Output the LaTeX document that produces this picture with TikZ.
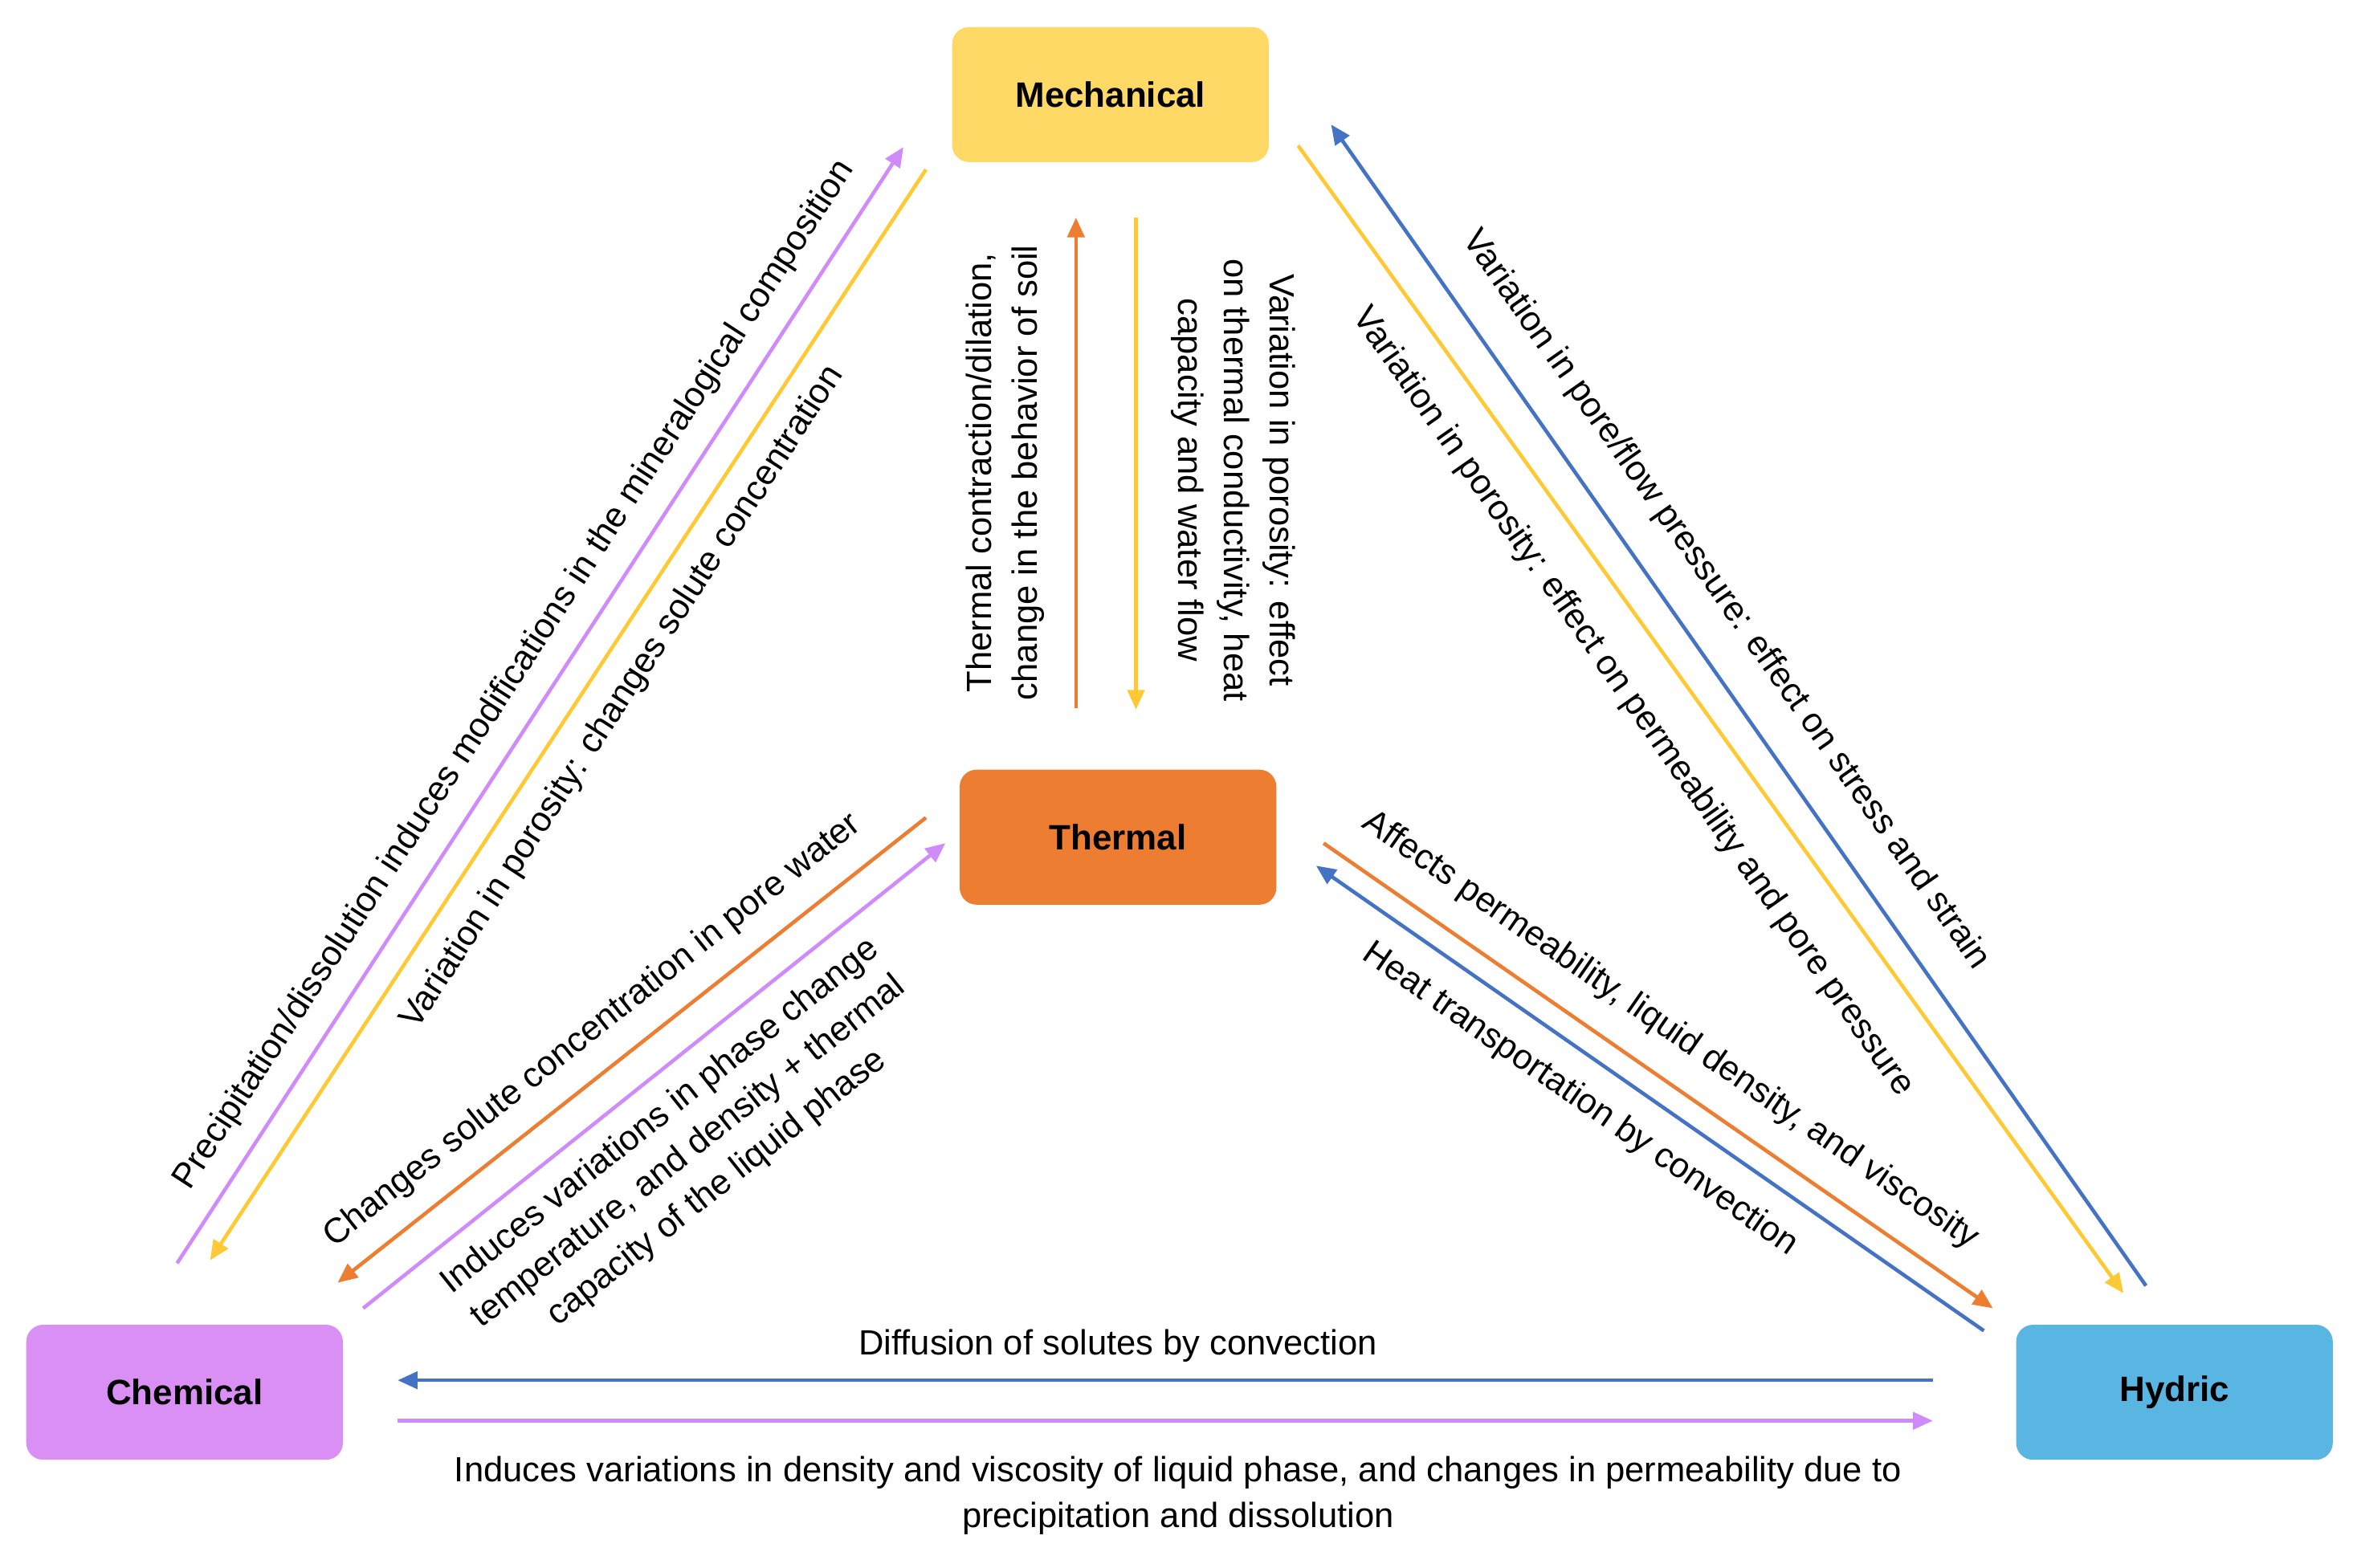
\documentclass[tikz,border=0pt]{standalone}
\usepackage{fontspec}
\setmainfont{Liberation Sans}
\usetikzlibrary{arrows.meta}
\definecolor{cMech}{HTML}{FFD966}
\definecolor{cTher}{HTML}{ED7D31}
\definecolor{cChem}{HTML}{DA8FF5}
\definecolor{cHyd}{HTML}{59B6E2}
\definecolor{aBlue}{HTML}{4472C4}
\definecolor{aOr}{HTML}{ED7D31}
\definecolor{aYel}{HTML}{FFC933}
\definecolor{aVio}{HTML}{D08BFA}
\begin{document}
\begin{tikzpicture}[x=0.018686cm,y=-0.018686cm,
  box/.style={rounded corners=6pt,minimum width=211*0.018686cm,minimum height=90*0.018686cm,font=\fontsize{12.5}{15}\selectfont\bfseries,inner sep=0},
  arr/.style={line width=1.3pt,-{Triangle[length=7pt,width=6pt]}},
  lab/.style={font=\fontsize{12.4}{16.2}\selectfont,align=center,inner sep=0}]
\useasboundingbox (0,0) rectangle (1568,1045);
\node[box,fill=cMech] (mech) at (740,63) {Mechanical};
\node[box,fill=cTher] (ther) at (745,558) {Thermal};
\node[box,fill=cChem] (chem) at (123,928) {Chemical};
\node[box,fill=cHyd] (hyd) at (1449,928) {Hydric};
% coordinates
\coordinate (b1) at (1288,920); \coordinate (b2) at (265,920);
\coordinate (b3) at (265,947); \coordinate (b4) at (1288,947);
\coordinate (l1) at (118,842); \coordinate (l2) at (602,98);
\coordinate (l3) at (617,113); \coordinate (l4) at (140,840);
\coordinate (c1) at (717,472); \coordinate (c2) at (717,145);
\coordinate (c3) at (757,145); \coordinate (c4) at (757,473);
\coordinate (r1) at (1430,857); \coordinate (r2) at (887,83);
\coordinate (r3) at (865,97); \coordinate (r4) at (1415,862);
\coordinate (t1) at (617,545); \coordinate (t2) at (225,855);
\coordinate (t3) at (242,872); \coordinate (t4) at (630,562);
\coordinate (h1) at (882,562); \coordinate (h2) at (1328,872);
\coordinate (h3) at (1322,887); \coordinate (h4) at (877,577);
\draw[arr,aBlue] (b1) -- (b2);
\draw[arr,aVio] (b3) -- (b4);
\draw[arr,aVio] (l1) -- (l2);
\draw[arr,aYel] (l3) -- (l4);
\draw[arr,aOr] (c1) -- (c2);
\draw[arr,aYel] (c3) -- (c4);
\draw[arr,aBlue] (r1) -- (r2);
\draw[arr,aYel] (r3) -- (r4);
\draw[arr,aOr] (t1) -- (t2);
\draw[arr,aVio] (t3) -- (t4);
\draw[arr,aOr] (h1) -- (h2);
\draw[arr,aBlue] (h3) -- (h4);
% labels
\node[lab] (lb1) at (745,897) {Diffusion of solutes by convection};
\node[lab] (lb2) at (785,997) {Induces variations in density and viscosity of liquid phase, and changes in permeability due to\\precipitation and dissolution};
\node[lab,rotate=57] (lb3) at (343,450) {Precipitation/dissolution induces modifications in the mineralogical composition};
\node[lab,rotate=57] (lb4) at (415,465) {Variation in porosity: changes solute concentration};
\node[lab,rotate=90] (lb5) at (670,315) {Thermal contraction/dilation,\\change in the behavior of soil};
\node[lab,rotate=-90] (lb6) at (822,320) {Variation in porosity: effect\\on thermal conductivity, heat\\capacity and water flow};
\node[lab,rotate=-55] (lb7) at (1150,400) {Variation in pore/flow pressure: effect on stress and strain};
\node[lab,rotate=-55] (lb8) at (1088,468) {Variation in porosity: effect on permeability and pore pressure};
\node[lab,rotate=38.5] (lb9) at (395,687) {Changes solute concentration in pore water};
\node[lab,rotate=38.5] (lb10) at (459,768) {Induces variations in phase change\\temperature, and density + thermal\\capacity of the liquid phase};
\node[lab,rotate=-34.8] (lb11) at (1113,687) {Affects permeability, liquid density, and viscosity};
\node[lab,rotate=-34.8] (lb12) at (1053,733) {Heat transportation by convection};
\end{tikzpicture}
\end{document}
